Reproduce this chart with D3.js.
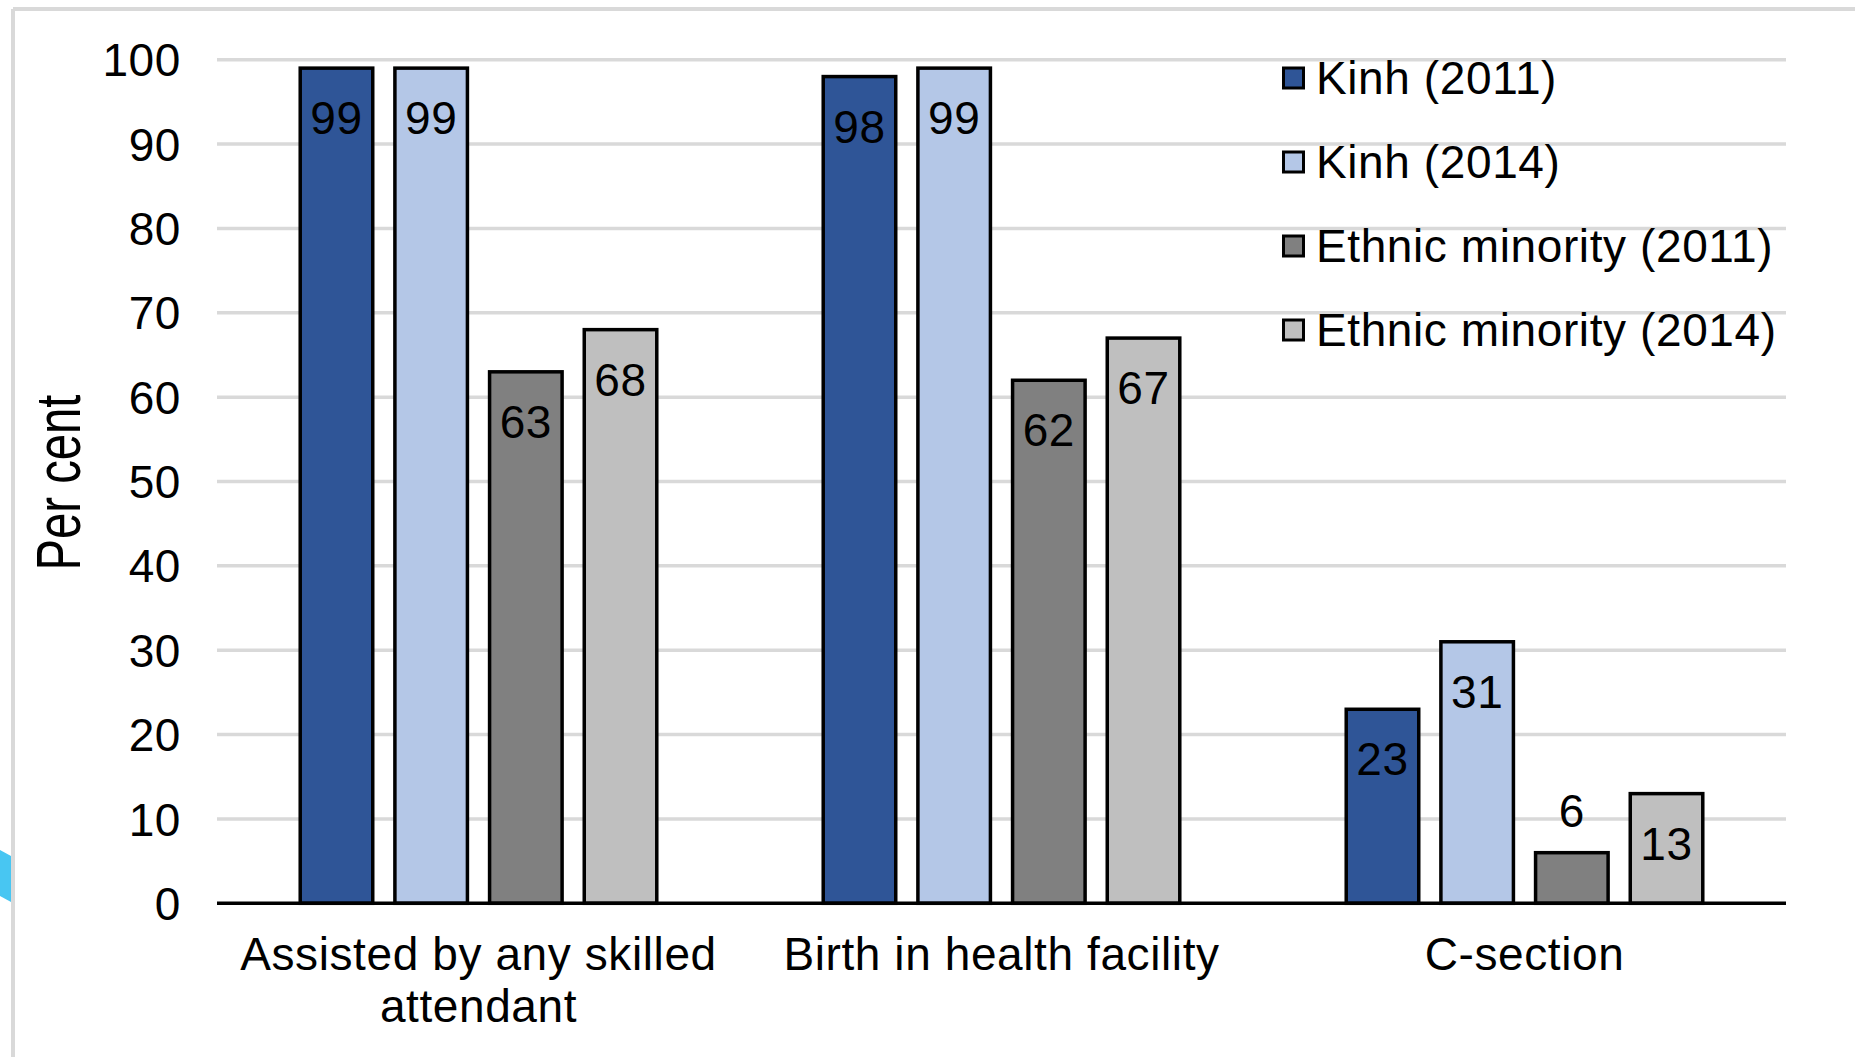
<!DOCTYPE html>
<html>
<head>
<meta charset="utf-8">
<script src="https://cdn.jsdelivr.net/npm/d3@7"></script>
<style>
  html, body { margin: 0; padding: 0; background: #ffffff; }
  svg { display: block; }
  text { font-family: "Liberation Sans", Arial, sans-serif; fill: #000; letter-spacing: 0.6px; }
</style>
</head>
<body>
<svg id="chart" width="1855" height="1057"></svg>
<script>
// Categories (multi-line labels separated by "\n")
const categories = ["Assisted by any skilled\nattendant", "Birth in health facility", "C-section"];

// Series names and values (per cent)
const seriesNames = ["Kinh (2011)", "Kinh (2014)", "Ethnic minority (2011)", "Ethnic minority (2014)"];
const kinh2011 = [99, 98, 23];
const kinh2014 = [99, 99, 31];
const minority2011 = [63, 62, 6];
const minority2014 = [68, 67, 13];
const seriesColors = ["#2f5597", "#b4c7e7", "#808080", "#bfbfbf"];

// Y-axis ticks
const yTicks = [0, 10, 20, 30, 40, 50, 60, 70, 80, 90, 100];
const yTitle = "Per cent";

const seriesValues = [kinh2011, kinh2014, minority2011, minority2014];
const rows = categories.map((c, i) => ({
  category: c,
  values: seriesNames.map((s, j) => ({ series: s, value: seriesValues[j][i], color: seriesColors[j] }))
}));

const svg = d3.select("#chart");
const W = 1855, H = 1057;
const margin = { left: 217, right: W - 1786, top: 59.7, bottom: H - 903.3 };
const fontSize = 46;

// Outer frame
const frame = svg.append("g");
frame.append("line").attr("x1", 13).attr("x2", W).attr("y1", 9).attr("y2", 9)
  .attr("stroke", "#d9d9d9").attr("stroke-width", 4);
frame.append("line").attr("x1", 13).attr("x2", 13).attr("y1", 9).attr("y2", H)
  .attr("stroke", "#d9d9d9").attr("stroke-width", 4);
// small cyan shape at the left edge
svg.append("path")
  .attr("d", "M0,850 L11,856 L11,902 L0,896 Z")
  .attr("fill", "#48c6f2");

const x0 = d3.scaleBand().domain(categories).range([margin.left, W - margin.right]).padding(0);
const x1 = d3.scaleBand().domain(seriesNames).range([0, x0.bandwidth()])
  .paddingInner(0.234).paddingOuter(0.879);
const y = d3.scaleLinear().domain([0, 100]).range([H - margin.bottom, margin.top]);

// Gridlines
svg.append("g").selectAll("line")
  .data(yTicks.filter(d => d !== 0))
  .join("line")
  .attr("x1", margin.left).attr("x2", W - margin.right)
  .attr("y1", d => y(d)).attr("y2", d => y(d))
  .attr("stroke", "#d9d9d9").attr("stroke-width", 3.5);

// Y axis labels
const yAxis = svg.append("g")
  .attr("transform", `translate(${margin.left},0)`)
  .call(d3.axisLeft(y).tickValues(yTicks).tickSize(0).tickPadding(36).tickFormat(d3.format("d")));
yAxis.select(".domain").remove();
yAxis.selectAll("text")
  .attr("font-size", fontSize)
  .attr("font-family", "Liberation Sans, Arial, sans-serif")
  .attr("fill", "#000")
  .attr("dy", "0.35em");

// Y axis title (glyphs drawn tall and narrow)
const yMid = (y(0) + y(100)) / 2;
svg.append("text")
  .attr("transform", `translate(80,${yMid + 89}) rotate(-90)`)
  .attr("font-size", 63)
  .attr("textLength", 176)
  .attr("lengthAdjust", "spacingAndGlyphs")
  .style("letter-spacing", "0px")
  .text(yTitle);

// Bars
const groups = svg.append("g").selectAll("g")
  .data(rows)
  .join("g")
  .attr("transform", d => `translate(${x0(d.category)},0)`);

groups.selectAll("rect")
  .data(d => d.values)
  .join("rect")
  .attr("x", d => x1(d.series))
  .attr("width", x1.bandwidth())
  .attr("y", d => y(d.value))
  .attr("height", d => y(0) - y(d.value))
  .attr("fill", d => d.color)
  .attr("stroke", "#000")
  .attr("stroke-width", 3.5);

// Value labels: inside the top of the bar, or above it when the bar is short
groups.selectAll("text.value")
  .data(d => d.values)
  .join("text")
  .attr("class", "value")
  .attr("x", d => x1(d.series) + x1.bandwidth() / 2)
  .attr("y", d => {
    const h = y(0) - y(d.value);
    return h < 90 ? y(d.value) - 26 : y(d.value) + 66;
  })
  .attr("text-anchor", "middle")
  .attr("font-size", fontSize)
  .attr("fill", "#111")
  .text(d => d3.format("d")(d.value));

// Baseline axis
svg.append("line")
  .attr("x1", margin.left).attr("x2", W - margin.right)
  .attr("y1", y(0)).attr("y2", y(0))
  .attr("stroke", "#000").attr("stroke-width", 3.5);

// Category labels
const xAxis = svg.append("g")
  .attr("transform", `translate(0,${y(0)})`)
  .call(d3.axisBottom(x0).tickSize(0).tickFormat(""));
xAxis.select(".domain").remove();
xAxis.selectAll(".tick").append("text")
  .attr("y", 67)
  .attr("text-anchor", "middle")
  .attr("font-size", fontSize)
  .attr("fill", "#000")
  .each(function(d) {
    const lines = d.split("\n");
    const t = d3.select(this);
    lines.forEach((ln, i) => {
      t.append("tspan").attr("x", 0).attr("dy", i === 0 ? 0 : 52).text(ln);
    });
  });

// Legend
const legend = svg.append("g").attr("transform", "translate(1282,78)");
const items = legend.selectAll("g")
  .data(seriesNames)
  .join("g")
  .attr("transform", (d, i) => `translate(0,${i * 84})`);
items.append("rect")
  .attr("x", 1.5).attr("y", -10)
  .attr("width", 20).attr("height", 20)
  .attr("fill", (d, i) => seriesColors[i])
  .attr("stroke", "#000").attr("stroke-width", 3);
items.append("text")
  .attr("x", 34).attr("y", 15.5)
  .attr("font-size", fontSize)
  .text(d => d);
</script>
</body>
</html>
